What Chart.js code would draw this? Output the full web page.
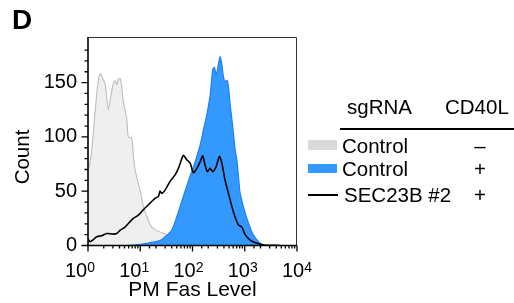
<!DOCTYPE html>
<html>
<head>
<meta charset="utf-8">
<script src="https://cdn.jsdelivr.net/npm/chart.js@4"></script>
<style>
  body { margin: 0; background: #fff; }
  #wrap { position: relative; width: 514px; height: 303px; font-family: "Liberation Sans", Arial, sans-serif; color: #000; }
  #wrap canvas { position: absolute; left: 0; top: 0; }
  .t { position: absolute; font-size: 20.5px; line-height: 1; white-space: nowrap; }
  .sw { position: absolute; }
</style>
</head>
<body>
<div id="wrap">
  <canvas id="histChart" width="514" height="303"></canvas>
  <div class="t" style="left:12px; top:6px; font-size:28px; font-weight:bold;">D</div>
  <div class="t" style="left:22px; top:157px; transform:translate(-50%,-50%) rotate(-90deg);">Count</div>

  <div class="t" style="left:347px; top:97px;">sgRNA</div>
  <div class="t" style="left:445px; top:97px;">CD40L</div>
  <div class="sw" style="left:340px; top:128px; width:174px; height:2px; background:#000;"></div>

  <div class="sw" style="left:308px; top:140px; width:29px; height:10px; background:#d9d9d9;"></div>
  <div class="t" style="left:342px; top:136px;">Control</div>
  <div class="t" style="left:460px; top:136px; width:40px; text-align:center;">–</div>

  <div class="sw" style="left:308px; top:164px; width:29px; height:9px; background:#3399ff;"></div>
  <div class="t" style="left:342px; top:159px;">Control</div>
  <div class="t" style="left:460px; top:159px; width:40px; text-align:center;">+</div>

  <div class="sw" style="left:308px; top:194px; width:30px; height:2px; background:#000;"></div>
  <div class="t" style="left:344px; top:185px;">SEC23B #2</div>
  <div class="t" style="left:460px; top:185px; width:40px; text-align:center;">+</div>
</div>
<script>
// Control sgRNA, no CD40L (grey)
const grayX = [1, 1.06, 1.18, 1.36, 1.51, 1.65, 1.75, 1.91, 2.12, 2.28, 2.45, 2.72, 3.05, 3.29, 3.55, 3.8, 4.1, 4.42, 4.75, 5.11, 5.51, 5.92, 6.87, 7.38, 7.95, 9.2, 10.2, 11.5, 13.3, 16.6, 22.2, 32.2, 50, 77.8, 121, 200];
const grayY = [70, 73, 88, 122, 145, 157, 158, 154, 149, 137, 125, 137, 149, 152, 148, 153, 154, 146, 132, 125, 117, 100, 99, 83, 70, 57, 48, 36, 27, 17, 13, 10, 6, 3, 1, 0];

// Control sgRNA + CD40L (blue)
const blueX = [1, 5.5, 10, 15, 20, 25, 30, 35, 40, 46.5, 58, 72, 90, 112, 139, 161, 187, 217, 244, 263, 284, 313, 338, 364, 392, 420, 460, 489, 525, 566, 608, 655, 706, 781, 817, 1018, 1215, 1448, 1728, 1974, 2353, 2800];
const blueY = [0, 0, 1, 2.5, 3.5, 5, 8, 11, 14, 22, 36, 50, 64, 77, 92, 106, 120, 138, 162, 164, 157, 167, 174, 167, 155, 151, 152, 146, 130, 117, 103, 88, 79, 57, 48, 30, 19, 10, 5, 2, 0.5, 0];

// SEC23B #2 sgRNA + CD40L (black line)
const blackX = [1, 1.09, 1.23, 1.47, 1.83, 2.28, 3.05, 3.55, 4.1, 5.11, 6.38, 7.38, 9.2, 11.5, 15.4, 19.2, 22.2, 23.9, 25.8, 29.9, 37.2, 46.4, 53.7, 62.4, 67, 77.8, 89.9, 104, 121, 140, 157, 174, 193, 217, 245, 283, 328, 364, 421, 488, 566, 655, 757, 880, 1018, 1268, 1706, 2281, 4766];
const blackY = [6, 3.5, 5, 8, 9, 11, 10.5, 11, 14, 17, 22, 25, 28, 33, 39, 43.5, 45, 50, 48, 51, 59, 65, 71, 80, 83, 79, 76, 67, 71, 77, 82.5, 74, 68, 71, 68, 72.5, 82, 76, 60, 48, 36, 26, 19, 17, 10, 5, 2, 0.5, 0];

// axis ticks
const xTickValues = [1, 10, 100, 1000, 10000];
const xTickExp = ['0', '1', '2', '3', '4'];
const yTickLabels = [0, 50, 100, 150];

const pts = (xs, ys) => xs.map((x, i) => ({ x: x, y: ys[i] }));

// box, tick marks and 10^n labels
const axisPlugin = {
    id: 'axisPlugin',
    afterDraw(chart) {
        const { ctx, chartArea: a, scales: { x, y } } = chart;
        ctx.save();

        ctx.strokeStyle = '#333';
        ctx.lineWidth = 1;
        ctx.beginPath();
        ctx.moveTo(a.left, a.top + 0.5);
        ctx.lineTo(a.right - 0.5, a.top + 0.5);
        ctx.lineTo(a.right - 0.5, a.bottom);
        ctx.stroke();

        ctx.strokeStyle = '#000';
        ctx.lineWidth = 1.6;
        ctx.beginPath();
        ctx.moveTo(a.left, a.top);
        ctx.lineTo(a.left, a.bottom);
        ctx.lineTo(a.right, a.bottom);
        ctx.stroke();

        ctx.lineWidth = 1.3;
        ctx.beginPath();
        x.ticks.forEach(t => {
            const major = xTickValues.includes(t.value);
            const px = x.getPixelForValue(t.value);
            ctx.moveTo(px, a.bottom);
            ctx.lineTo(px, a.bottom + (major ? 6 : 3));
        });
        y.ticks.forEach(t => {
            if (t.value % 10 !== 0) return;
            const major = yTickLabels.includes(t.value);
            const py = y.getPixelForValue(t.value);
            ctx.moveTo(a.left, py);
            ctx.lineTo(a.left - (major ? 6.5 : 3.5), py);
        });
        ctx.stroke();

        ctx.fillStyle = '#000';
        ctx.textBaseline = 'alphabetic';
        ctx.textAlign = 'left';
        xTickValues.forEach((v, i) => {
            const base = '10';
            ctx.font = '20px "Liberation Sans", Arial, sans-serif';
            const wb = ctx.measureText(base).width;
            ctx.font = '14px "Liberation Sans", Arial, sans-serif';
            const we = ctx.measureText(xTickExp[i]).width;
            const cx = x.getPixelForValue(v) + (i - 4) * 2;
            const sx = cx - (wb + we) / 2;
            ctx.font = '20px "Liberation Sans", Arial, sans-serif';
            ctx.fillText(base, sx, 277);
            ctx.font = '14px "Liberation Sans", Arial, sans-serif';
            ctx.fillText(xTickExp[i], sx + wb, 272);
        });
        ctx.restore();
    }
};

new Chart(document.getElementById('histChart'), {
    type: 'line',
    data: {
        datasets: [{
            label: 'SEC23B #2 +',
            data: pts(blackX, blackY),
            borderColor: '#000',
            borderWidth: 1.6,
            fill: false,
            order: 0
        }, {
            label: 'Control +',
            data: pts(blueX, blueY),
            borderColor: '#1f80f5',
            backgroundColor: '#3399ff',
            borderWidth: 1.2,
            fill: 'origin',
            order: 1
        }, {
            label: 'Control -',
            data: pts(grayX, grayY),
            borderColor: '#bdbdbd',
            backgroundColor: '#efefef',
            borderWidth: 1.1,
            fill: 'origin',
            order: 2
        }]
    },
    options: {
        responsive: false,
        animation: false,
        devicePixelRatio: 1,
        layout: { padding: { left: 0, right: 217, top: 37, bottom: 0 } },
        elements: {
            point: { radius: 0 },
            line: { tension: 0.25 }
        },
        plugins: {
            legend: { display: false },
            tooltip: { enabled: false }
        },
        scales: {
            x: {
                type: 'logarithmic',
                min: 1,
                max: 10000,
                grid: { display: false },
                border: { display: false },
                ticks: { callback: () => '', autoSkip: false },
                title: {
                    display: true,
                    text: 'PM Fas Level',
                    color: '#000',
                    font: { family: '"Liberation Sans", Arial, sans-serif', size: 21 },
                    padding: { top: 0, bottom: 0 }
                },
                afterFit: s => { s.height = 57.5; }
            },
            y: {
                min: 0,
                max: 192,
                grid: { display: true, drawOnChartArea: false, drawTicks: true, tickLength: 7, tickColor: 'rgba(0,0,0,0)' },
                border: { display: false },
                ticks: {
                    stepSize: 10,
                    autoSkip: false,
                    padding: 4,
                    color: '#000',
                    font: { family: '"Liberation Sans", Arial, sans-serif', size: 20 },
                    callback: v => yTickLabels.includes(v) ? String(v) : ''
                },
                afterFit: s => { s.width = 88; }
            }
        }
    },
    plugins: [axisPlugin]
});
</script>
</body>
</html>
